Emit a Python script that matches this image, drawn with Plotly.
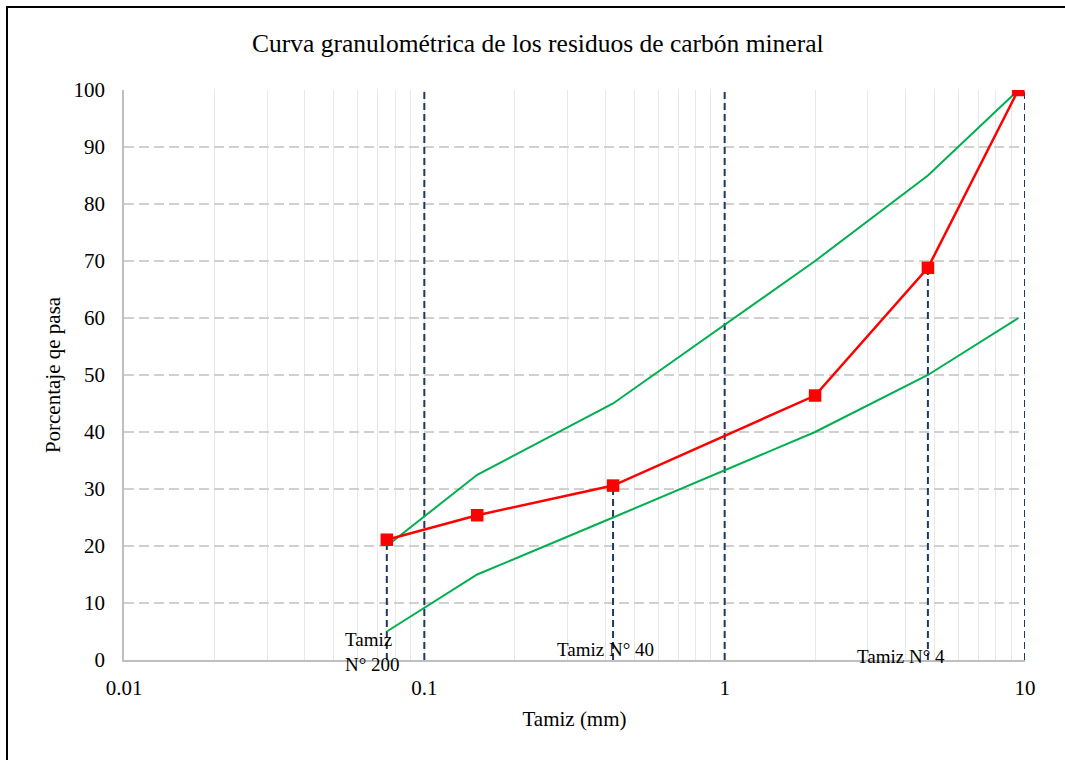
import math
import plotly.graph_objects as go

# Data
tamiz_mm = [0.075, 0.15, 0.425, 2.0, 4.75, 9.5]
pasa = [21.1, 25.4, 30.6, 46.4, 68.8, 100]
lim_sup = [20, 32.5, 45, 70, 85, 100]
lim_inf = [5, 15, 25, 40, 50, 60]
ref_lines_full = [0.1, 1, 10]
tamiz_labels_x = [0.075, 0.425, 4.75]
tamiz_labels_y = [21.1, 30.6, 68.8]
tamiz_labels = ["Tamiz<br>N° 200", "Tamiz N° 40", "Tamiz N° 4"]
x_ticks = [0.01, 0.1, 1, 10]
y_ticks = list(range(0, 101, 10))

NAVY = "#1f3864"
FONT = "Liberation Serif"
NAVY_DASH = "7px,4px"

fig = go.Figure()

# vertical dashed lines at decades
for xv in ref_lines_full:
    fig.add_trace(go.Scatter(x=[xv, xv], y=[0, 100], mode="lines",
                             line=dict(color=NAVY, width=2, dash=NAVY_DASH),
                             showlegend=False, hoverinfo="skip"))
# dashed lines at sieves
for xv, yv in zip(tamiz_labels_x, tamiz_labels_y):
    fig.add_trace(go.Scatter(x=[xv, xv], y=[0, yv], mode="lines",
                             line=dict(color=NAVY, width=2, dash=NAVY_DASH),
                             showlegend=False, hoverinfo="skip"))

fig.add_trace(go.Scatter(x=tamiz_mm, y=lim_sup, mode="lines",
                         line=dict(color="#00b050", width=2), showlegend=False))
fig.add_trace(go.Scatter(x=tamiz_mm, y=lim_inf, mode="lines",
                         line=dict(color="#00b050", width=2), showlegend=False))
fig.add_trace(go.Scatter(x=tamiz_mm, y=pasa, mode="lines+markers",
                         line=dict(color="#ff0000", width=2.5),
                         marker=dict(symbol="square", size=12.5, color="#ff0000"),
                         showlegend=False))

# labels
offsets = [(-14, 8), (-8, 11), (-27, 4)]
for (xv, txt), (dx, dy) in zip(zip(tamiz_labels_x, tamiz_labels), offsets):
    fig.add_annotation(x=math.log10(xv), y=0, xref="x", yref="y", text=txt,
                       showarrow=False, xshift=dx, yshift=dy,
                       font=dict(family=FONT, size=19, color="black"),
                       align="left")

fig.update_layout(
    width=1065, height=760,
    margin=dict(l=124, r=40, t=90, b=100),
    paper_bgcolor="white", plot_bgcolor="white",
    title=dict(text="Curva granulométrica de los residuos de carbón mineral",
               x=0.505, xanchor="center", y=0.943, yanchor="middle",
               font=dict(family=FONT, size=25.5, color="black")),
    font=dict(family=FONT, size=21, color="black"),
    xaxis=dict(type="log", range=[-2, 1], tickvals=x_ticks,
               ticktext=[str(v) for v in x_ticks],
               showgrid=True, gridcolor="#e8e8e8", gridwidth=1,
               minor=dict(showgrid=True, gridcolor="#e8e8e8", gridwidth=1,
                          dtick="D1"),
               showline=True, linecolor="#bfbfbf", linewidth=1.5,
               ticks="", ticklabelstandoff=8, zeroline=False,
               title=dict(text="Tamiz (mm)", font=dict(family=FONT, size=21),
                          standoff=12)),
    yaxis=dict(range=[0, 100], tickvals=y_ticks,
               showgrid=True, gridcolor="#d0d0d0", gridwidth=1.5,
               griddash="10px,5px",
               showline=True, linecolor="#bfbfbf", linewidth=1.5,
               ticks="", ticklabelstandoff=13, zeroline=False,
               title=dict(text="Porcentaje qe pasa", font=dict(family=FONT, size=21),
                          standoff=7)),
)

# outer frame
fig.add_shape(type="rect", xref="paper", yref="paper",
              x0=-117/901, x1=1.1, y0=-0.3, y1=1 + 83/570,
              line=dict(color="black", width=2), fillcolor="rgba(0,0,0,0)")

fig.write_html("out.html")
